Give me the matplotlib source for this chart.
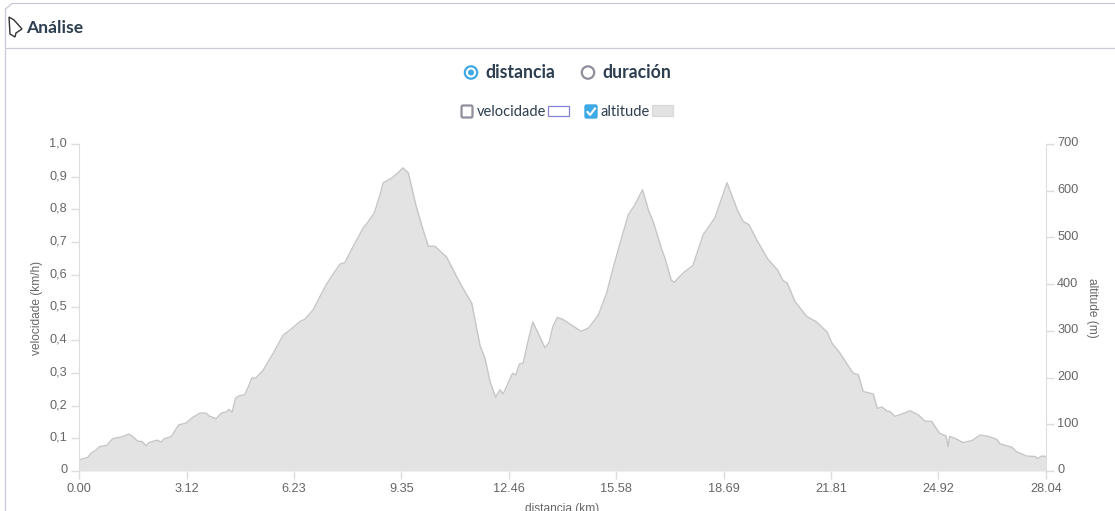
import matplotlib
matplotlib.use('Agg')
import matplotlib.pyplot as plt
from matplotlib.patches import Circle, Polygon, Rectangle, FancyBboxPatch
from matplotlib.transforms import ScaledTranslation

# distancia (km) / altitude (m)
distancia = [0.00, 0.25, 0.35, 0.50, 0.59, 0.81, 0.97, 1.28, 1.44, 1.54, 1.70, 1.83, 1.95, 2.03, 2.26, 2.38,
             2.47, 2.68, 2.89, 3.09, 3.30, 3.51, 3.69, 3.77, 3.97, 4.13, 4.29, 4.34, 4.44, 4.54, 4.65, 4.80,
             4.91, 5.01, 5.13, 5.34, 5.63, 5.92, 6.12, 6.41, 6.55, 6.79, 6.99, 7.18, 7.37, 7.57, 7.71, 7.95,
             8.24, 8.39, 8.56, 8.73, 8.82, 9.07, 9.26, 9.39, 9.55, 9.79, 9.98, 10.13, 10.32, 10.66, 11.05, 11.39,
             11.63, 11.77, 11.92, 12.08, 12.21, 12.30, 12.40, 12.57, 12.67, 12.77, 12.88, 13.03, 13.16, 13.51, 13.63, 13.74,
             13.87, 14.04, 14.56, 14.77, 14.96, 15.06, 15.30, 15.45, 15.69, 15.93, 16.12, 16.34, 16.51, 16.65, 16.90, 16.99,
             17.17, 17.26, 17.52, 17.80, 18.10, 18.44, 18.79, 19.10, 19.26, 19.43, 19.65, 19.97, 20.25, 20.41, 20.54, 20.76,
             21.10, 21.39, 21.70, 21.83, 22.07, 22.45, 22.60, 22.74, 23.03, 23.15, 23.28, 23.42, 23.52, 23.66, 23.86, 24.10,
             24.34, 24.53, 24.73, 24.95, 25.14, 25.20, 25.24, 25.40, 25.63, 25.89, 26.13, 26.37, 26.61, 26.71, 27.05, 27.19,
             27.48, 27.72, 27.80, 27.92, 28.04]
altitude = [24, 29, 38, 45, 52, 55, 69, 74, 79, 75, 64, 63, 54, 61, 66, 62,
            69, 74, 99, 102, 115, 124, 124, 118, 112, 124, 127, 132, 126, 156, 161, 163,
            180, 199, 199, 216, 252, 291, 302, 320, 325, 345, 374, 400, 422, 443, 446, 481,
            520, 534, 552, 591, 617, 627, 639, 649, 638, 563, 516, 481, 481, 458, 402, 359,
            268, 242, 191, 158, 174, 165, 181, 209, 206, 229, 231, 281, 319, 264, 275, 309,
            329, 324, 299, 306, 324, 334, 381, 424, 488, 549, 570, 602, 559, 534, 474, 456,
            409, 404, 424, 440, 506, 542, 617, 557, 534, 527, 495, 454, 431, 408, 402, 363,
            331, 319, 297, 274, 252, 209, 206, 170, 165, 134, 137, 129, 127, 117, 122, 129,
            120, 107, 106, 81, 75, 52, 74, 70, 61, 65, 77, 74, 68, 58, 51, 41,
            32, 31, 27, 32, 31]

x_ticks = [0.00, 3.12, 6.23, 9.35, 12.46, 15.58, 18.69, 21.81, 24.92, 28.04]
vel_ticks = [0, 0.1, 0.2, 0.3, 0.4, 0.5, 0.6, 0.7, 0.8, 0.9, 1.0]
vel_labels = ['0', '0,1', '0,2', '0,3', '0,4', '0,5', '0,6', '0,7', '0,8', '0,9', '1,0']
alt_ticks = [0, 100, 200, 300, 400, 500, 600, 700]

W, H = 1115, 511
INK = '#2c3e50'
AXIS = '#666666'
LINE = '#dddddd'
BORDER = '#c9c9dc'
BLUE = '#3fa9e6'
GREY = '#8f8f9e'

plt.rcParams['font.family'] = ['Liberation Sans', 'DejaVu Sans']

fig = plt.figure(figsize=(W / 100, H / 100), dpi=100)

# page chrome, in pixels
bg = fig.add_axes([0, 0, 1, 1])
bg.set_xlim(0, W)
bg.set_ylim(H, 0)
bg.axis('off')
bg.plot([1115, 12, 5.5, 5.5], [3.5, 3.5, 9, 511], color=BORDER, lw=0.9)
bg.plot([5.5, 1115], [48.5, 48.5], color=BORDER, lw=0.9)
bg.add_patch(Polygon([(9, 17), (14, 20), (22, 29), (16, 33), (15, 37), (10, 34)], fc='white', ec='#333333', lw=1))
bg.text(26.5, 28, 'Análise', family='Lato', weight='bold', fontsize=12.6, color=INK, va='center')

bg.add_patch(Circle((471, 72.5), 6.2, fc='white', ec=BLUE, lw=1.6))
bg.add_patch(Circle((471, 72.5), 3, fc=BLUE, ec='none'))
bg.text(485.5, 72.5, 'distancia', family='Lato', weight='bold', fontsize=12.7, color=INK, va='center')
bg.add_patch(Circle((588, 72.5), 6.2, fc='white', ec=GREY, lw=1.6))
bg.text(602.5, 72.5, 'duración', family='Lato', weight='bold', fontsize=12.7, color=INK, va='center')

bg.add_patch(FancyBboxPatch((461.5, 105.5), 11, 12, boxstyle='round,pad=0,rounding_size=1.5', fc='white', ec=GREY, lw=1.6))
bg.text(477, 112.5, 'velocidade', family='Lato', fontsize=10.5, color=INK, va='center')
bg.add_patch(Rectangle((548, 106), 21, 10.5, fc='white', ec='#8583d8', lw=0.9))
bg.add_patch(FancyBboxPatch((585, 105), 12, 13, boxstyle='round,pad=0,rounding_size=1.5', fc=BLUE, ec=BLUE, lw=1))
bg.plot([587.5, 590, 595], [112, 115, 108.5], color='white', lw=1.5)
bg.text(600.5, 112.5, 'altitude', family='Lato', fontsize=10.5, color=INK, va='center')
bg.add_patch(Rectangle((652, 105.5), 21, 11, fc='#e2e2e2', ec='#d8d8d8', lw=0.9))

# chart
left, right, top, bottom = 79, 1046, 144, 471
ax = fig.add_axes([left / W, 1 - bottom / H, (right - left) / W, (bottom - top) / H])
ax.patch.set_alpha(0)
ax2 = ax.twinx()

ax.fill_between(distancia, altitude, 0, color='#e3e3e3', lw=0)
ax.plot(distancia, altitude, color='#c6c6c6', lw=1)
ax.set_xlim(0, 28.04)
ax.set_ylim(0, 700)
ax.set_xticks(x_ticks)
ax.set_xticklabels(['%.2f' % t for t in x_ticks])
ax.set_xlabel('distancia (km)', fontsize=8.6, color=AXIS, va='top')
ax.xaxis.set_label_coords(0.5, -0.098)
ax.yaxis.tick_right()
ax.yaxis.set_label_position('right')
ax.set_yticks(alt_ticks)
ax.set_ylabel('altitude (m)', fontsize=8.6, color=AXIS, rotation=270, va='center')
ax.yaxis.set_label_coords(1.0478, 0.5)
ax.tick_params(axis='x', labelsize=9.2, labelcolor=AXIS, color=LINE, length=6, width=1, pad=2.5)
ax.tick_params(axis='y', labelsize=9.2, labelcolor=AXIS, color=LINE, length=6, width=1, pad=2)
for s in ['top', 'bottom', 'left']:
    ax.spines[s].set_visible(False)
ax.spines['right'].set_color(LINE)

ax2.yaxis.tick_left()
ax2.yaxis.set_label_position('left')
ax2.set_ylim(0, 1)
ax2.set_yticks(vel_ticks)
ax2.set_yticklabels(vel_labels)
ax2.set_ylabel('velocidade (km/h)', fontsize=8.6, color=AXIS, va='center')
ax2.yaxis.set_label_coords(-0.0435, 0.5)
ax2.tick_params(axis='y', labelsize=9.2, labelcolor=AXIS, color=LINE, length=6, width=1, pad=2.5)
for s in ['top', 'bottom', 'right']:
    ax2.spines[s].set_visible(False)
ax2.spines['left'].set_color(LINE)

# y tick labels sit a little above their ticks
nudge = ScaledTranslation(0, 1.5 / 72, fig.dpi_scale_trans)
for lab in ax.get_yticklabels() + ax2.get_yticklabels():
    lab.set_transform(lab.get_transform() + nudge)

fig.savefig('out.png', dpi=100)
